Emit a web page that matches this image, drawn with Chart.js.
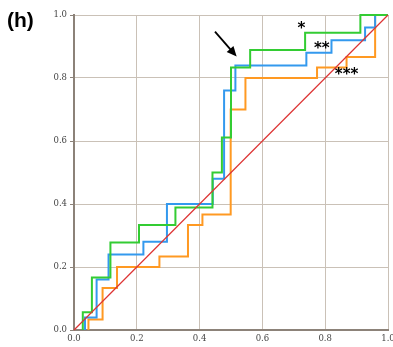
<!DOCTYPE html>
<html>
<head>
<meta charset="utf-8">
<script src="https://cdn.jsdelivr.net/npm/chart.js@4"></script>
<style>
  html, body { margin: 0; padding: 0; background: #fff; overflow: hidden; }
  #wrap { width: 400px; height: 347px; }
</style>
</head>
<body>
<div id="wrap"><canvas id="chart"></canvas></div>
<script>
// Step curves: at each x the curve jumps up to the matching y
const greenX = [0.028, 0.028, 0.057, 0.116, 0.207, 0.323, 0.441, 0.471, 0.500, 0.561, 0.736, 0.912, 1.0];
const greenY = [0.0, 0.056, 0.167, 0.278, 0.333, 0.389, 0.500, 0.611, 0.833, 0.889, 0.944, 1.0, 1.0];

const blueX = [0.035, 0.035, 0.072, 0.110, 0.221, 0.296, 0.442, 0.478, 0.514, 0.740, 0.820, 0.927, 0.959, 1.0];
const blueY = [0.0, 0.04, 0.16, 0.24, 0.28, 0.40, 0.48, 0.76, 0.84, 0.88, 0.92, 0.96, 1.0, 1.0];

const orangeX = [0.046, 0.046, 0.091, 0.137, 0.272, 0.363, 0.409, 0.499, 0.546, 0.774, 0.868, 0.959, 1.0];
const orangeY = [0.0, 0.033, 0.133, 0.200, 0.233, 0.333, 0.367, 0.700, 0.800, 0.833, 0.867, 1.0, 1.0];

const diagX = [0, 1];
const diagY = [0, 1];

const tickValues = [0, 0.2, 0.4, 0.6, 0.8, 1.0];

// Significance marks and arrow (data coordinates)
const starLabels = ['*', '**', '***'];
const starX = [0.724, 0.789, 0.868];
const starY = [0.968, 0.905, 0.822];
const arrowFrom = [0.449, 0.947];
const arrowTo = [0.518, 0.868];

function toPoints(xs, ys) {
    return xs.map((x, i) => ({ x: x, y: ys[i] }));
}

const colors = {
    green: '#33cc33',
    blue: '#3399ee',
    orange: '#ff9922',
    red: '#dd3333',
    grid: '#cac1b7',
    axis: '#8c8279',
    text: '#444'
};

// Draws the panel letter, the arrow and the stars
const extrasPlugin = {
    id: 'extras',
    afterDatasetsDraw(chart) {
        const ctx = chart.ctx;
        const xs = chart.scales.x;
        const ys = chart.scales.y;
        ctx.save();

        ctx.fillStyle = '#000';
        ctx.font = 'bold 21px "Liberation Sans", Arial, sans-serif';
        ctx.textBaseline = 'alphabetic';
        ctx.textAlign = 'left';
        ctx.fillText('(h)', 7, 27);

        // arrow
        const x1 = xs.getPixelForValue(arrowFrom[0]), y1 = ys.getPixelForValue(arrowFrom[1]);
        const x2 = xs.getPixelForValue(arrowTo[0]), y2 = ys.getPixelForValue(arrowTo[1]);
        const ang = Math.atan2(y2 - y1, x2 - x1);
        const head = 11;
        ctx.strokeStyle = '#000';
        ctx.lineWidth = 1.8;
        ctx.beginPath();
        ctx.moveTo(x1, y1);
        ctx.lineTo(x2 - Math.cos(ang) * head * 0.8, y2 - Math.sin(ang) * head * 0.8);
        ctx.stroke();
        ctx.beginPath();
        ctx.moveTo(x2, y2);
        ctx.lineTo(x2 - head * Math.cos(ang - 0.42), y2 - head * Math.sin(ang - 0.42));
        ctx.lineTo(x2 - head * Math.cos(ang + 0.42), y2 - head * Math.sin(ang + 0.42));
        ctx.closePath();
        ctx.fill();

        // stars
        ctx.font = 'bold 15px "DejaVu Sans", sans-serif';
        ctx.textAlign = 'center';
        ctx.textBaseline = 'middle';
        starLabels.forEach((s, i) => {
            ctx.fillText(s, xs.getPixelForValue(starX[i]), ys.getPixelForValue(starY[i]) + 4);
        });
        ctx.restore();
    }
};

const lineStyle = (color, width) => ({
    borderColor: color,
    backgroundColor: color,
    borderWidth: width,
    pointRadius: 0,
    fill: false,
    tension: 0
});

new Chart(document.getElementById('chart'), {
    type: 'line',
    data: {
        datasets: [
            Object.assign({ label: 'diagonal', data: toPoints(diagX, diagY) }, lineStyle(colors.red, 1.2)),
            Object.assign({ label: 'green', data: toPoints(greenX, greenY), stepped: 'before' }, lineStyle(colors.green, 2)),
            Object.assign({ label: 'blue', data: toPoints(blueX, blueY), stepped: 'before' }, lineStyle(colors.blue, 2)),
            Object.assign({ label: 'orange', data: toPoints(orangeX, orangeY), stepped: 'before' }, lineStyle(colors.orange, 2))
        ]
    },
    options: {
        responsive: true,
        maintainAspectRatio: false,
        animation: false,
        clip: false,
        layout: { padding: { left: 0, right: 12, top: 15, bottom: 0 } },
        plugins: {
            legend: { display: false },
            tooltip: { enabled: false }
        },
        scales: {
            x: {
                type: 'linear',
                min: 0,
                max: 1,
                afterBuildTicks: (scale) => { scale.ticks = tickValues.map(v => ({ value: v })); },
                afterFit: (scale) => { scale.height = 17; },
                grid: { color: colors.grid, lineWidth: 1, drawTicks: false },
                border: { color: colors.axis, width: 2 },
                ticks: {
                    padding: 4,
                    color: colors.text,
                    font: { family: '"DejaVu Serif", serif', size: 8.5 },
                    callback: (v) => Number(v).toFixed(1),
                    maxRotation: 0
                }
            },
            y: {
                type: 'linear',
                min: 0,
                max: 1,
                afterBuildTicks: (scale) => { scale.ticks = tickValues.map(v => ({ value: v })); },
                afterFit: (scale) => { scale.width = 74; },
                grid: { color: colors.grid, lineWidth: 1, tickLength: 4, tickColor: colors.axis },
                border: { color: colors.axis, width: 2 },
                ticks: {
                    padding: 3,
                    color: colors.text,
                    font: { family: '"DejaVu Serif", serif', size: 8.5 },
                    callback: (v) => Number(v).toFixed(1)
                }
            }
        }
    },
    plugins: [extrasPlugin]
});
</script>
</body>
</html>
